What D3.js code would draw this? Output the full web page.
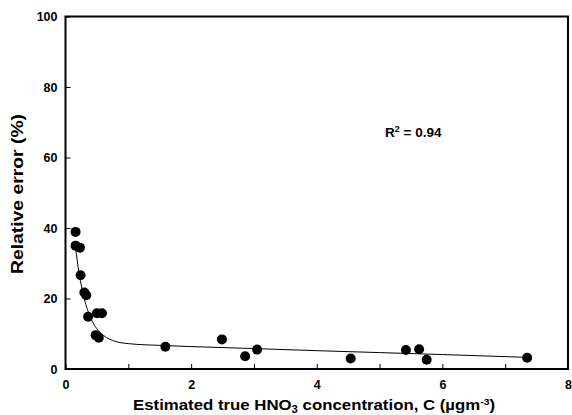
<!DOCTYPE html>
<html><head><meta charset="utf-8">
<script src="https://cdn.jsdelivr.net/npm/d3@7"></script>
<style>body{margin:0;background:#fff}svg{display:block}text{font-family:"Liberation Sans",Arial,sans-serif;font-weight:bold;fill:#000}</style>
</head><body><svg id="c" width="572" height="415"></svg>
<script>
const pointsX = [0.16,0.16,0.23,0.24,0.30,0.33,0.36,0.50,0.58,0.48,0.53,1.59,2.49,2.86,3.05,4.54,5.42,5.63,5.75,7.35];
const pointsY = [38.9,35.0,34.4,26.6,21.7,20.9,14.8,15.8,15.8,9.6,8.9,6.3,8.4,3.6,5.5,3.0,5.4,5.6,2.6,3.2];
const fitX = [0.15,0.2,0.25,0.3,0.4,0.5,0.6,0.8,1.0,1.5,2,3,4,5,6,7.35];
const fitY = [36.0,29.1,23.9,19.9,14.5,11.4,9.6,7.8,7.2,6.7,6.36,5.8,5.2,4.65,4.1,3.3];
const xTicks = [0,1,2,3,4,5,6,7,8];
const xLabels = [0,2,4,6,8];
const yTicks = [0,20,40,60,80,100];
const r2Text = "0.94";

const svg = d3.select("#c");
const L=65.5,R=568,T=16.5,B=369;
const x = d3.scaleLinear().domain([0,8]).range([L,R]);
const y = d3.scaleLinear().domain([0,100]).range([B,T]);

svg.append("rect").attr("x",L).attr("y",T).attr("width",R-L).attr("height",B-T)
  .attr("fill","none").attr("stroke","#000").attr("stroke-width",2);

const xa = svg.append("g").attr("transform",`translate(0,${B})`)
  .call(d3.axisBottom(x).tickValues(xTicks).tickSizeInner(-5).tickSizeOuter(0)
    .tickFormat(d=>xLabels.includes(d)?d:""));
xa.select(".domain").remove();
xa.selectAll("line").attr("stroke","#000").attr("stroke-width",1);
xa.selectAll("text").attr("y",11).attr("font-size","12.5px").attr("fill","#000")
  .style("font-family","'Liberation Sans',Arial,sans-serif").style("font-weight","bold");

const ya = svg.append("g").attr("transform",`translate(${L},0)`)
  .call(d3.axisLeft(y).tickValues(yTicks).tickSizeInner(-5).tickSizeOuter(0));
ya.select(".domain").remove();
ya.selectAll("line").attr("stroke","#000").attr("stroke-width",1);
ya.selectAll("text").attr("x",-8).attr("font-size","12.5px").attr("fill","#000")
  .style("font-family","'Liberation Sans',Arial,sans-serif").style("font-weight","bold");

const fit = fitX.map((v,i)=>[v,fitY[i]]);
svg.append("path").datum(fit).attr("fill","none").attr("stroke","#000").attr("stroke-width",1)
  .attr("d",d3.line().x(d=>x(d[0])).y(d=>y(d[1])).curve(d3.curveMonotoneX));

svg.append("g").selectAll("circle").data(pointsX.map((v,i)=>[v,pointsY[i]])).join("circle")
  .attr("cx",d=>x(d[0])).attr("cy",d=>y(d[1])).attr("r",5).attr("fill","#000");

const t = svg.append("text").attr("x",385).attr("y",137).attr("font-size","13.5px");
t.append("tspan").text("R");
t.append("tspan").attr("dy",-5).attr("font-size","9px").text("2");
t.append("tspan").attr("dy",5).text(" = "+r2Text);

const xt = svg.append("text").attr("x",133).attr("y",410).attr("font-size","15.5px")
  .attr("textLength",362).attr("lengthAdjust","spacingAndGlyphs");
xt.append("tspan").text("Estimated true HNO");
xt.append("tspan").attr("dy",3).attr("font-size","10.5px").text("3");
xt.append("tspan").attr("dy",-3).text(" concentration, C (\u00b5gm");
xt.append("tspan").attr("dy",-5).attr("font-size","9.5px").text("-3");
xt.append("tspan").attr("dy",5).text(")");

svg.append("text").attr("transform","translate(23,194) rotate(-90)").attr("text-anchor","middle")
  .attr("font-size","16px").attr("textLength",160).attr("lengthAdjust","spacingAndGlyphs")
  .text("Relative error (%)");
</script></body></html>
